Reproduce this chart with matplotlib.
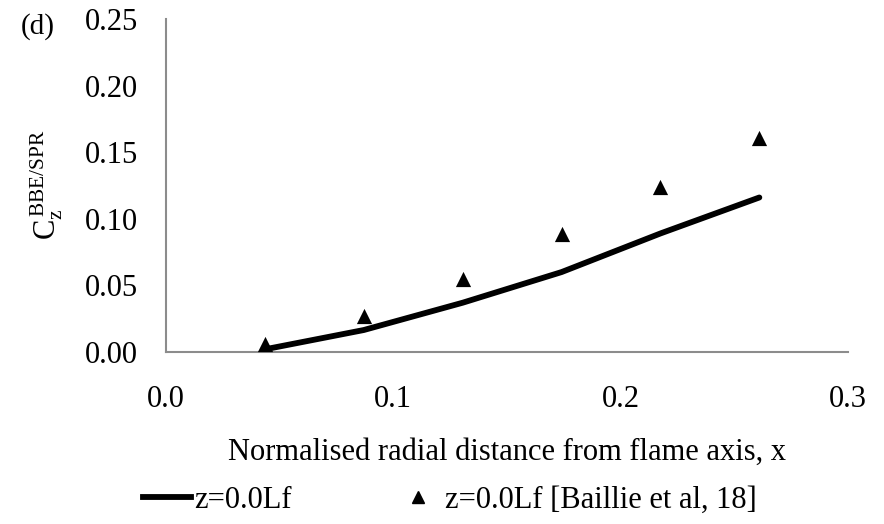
import matplotlib
matplotlib.use("Agg")
import matplotlib.pyplot as plt
from matplotlib.lines import Line2D

plt.rcParams['font.family'] = ['Liberation Serif', 'DejaVu Serif']
plt.rcParams['mathtext.fontset'] = 'custom'
plt.rcParams['mathtext.rm'] = 'Liberation Serif'
plt.rcParams['mathtext.it'] = 'Liberation Serif:italic'

# Data
x_model = [0.0435, 0.087, 0.1305, 0.174, 0.2175, 0.261]
c_model = [0.002, 0.0165, 0.037, 0.060, 0.089, 0.116]
x_exp = [0.0435, 0.087, 0.1305, 0.174, 0.2175, 0.261]
c_exp = [0.006, 0.027, 0.055, 0.0886, 0.124, 0.161]
x_ticks = [0.0, 0.1, 0.2, 0.3]
y_ticks = [0.00, 0.05, 0.10, 0.15, 0.20, 0.25]
label_model = "z=0.0Lf"
label_exp = "z=0.0Lf [Baillie et al, 18]"

fs = 22
fig = plt.figure(figsize=(8.84, 5.24), dpi=100)
ax = fig.add_axes([166/884, 1-352/524, 682/884, 333/524])

ax.plot(x_model, c_model, color='black', lw=4.2, solid_capstyle='round', zorder=3)
ax.scatter(x_exp, c_exp, marker='^', s=120, color='black', zorder=4, linewidths=0)

ax.set_xlim(0, 0.3)
ax.set_ylim(0, 0.25)
ax.set_xticks(x_ticks)
ax.set_xticklabels([f"{v:.1f}" for v in x_ticks])
ax.set_yticks(y_ticks)
ax.set_yticklabels([f"{v:.2f}" for v in y_ticks])
ax.tick_params(axis='both', length=0, labelsize=fs)
ax.tick_params(axis='y', pad=20)
ax.tick_params(axis='x', pad=24)
for s in ['top', 'right']:
    ax.spines[s].set_visible(False)
for s in ['left', 'bottom']:
    ax.spines[s].set_color('#8c8c8c')
    ax.spines[s].set_linewidth(1.5)

ax.set_xlabel("Normalised radial distance from flame axis, x", fontsize=fs, labelpad=17)
fig.text(47/884, 1-185/524, r'$\mathregular{C_z^{\,BBE/SPR}}$', rotation=90,
         ha='center', va='center', fontsize=fs)
fig.text(38/884, 1-27/524, "(d)", ha='center', va='center', fontsize=fs-1)

handles = [Line2D([], [], color='black', lw=4.2),
           Line2D([], [], color='black', marker='^', ls='none', markersize=9)]
fig.legend(handles, [label_model, label_exp], loc='center', ncol=2,
           bbox_to_anchor=(450/884, 1-500/524), frameon=False, fontsize=fs,
           handlelength=1.57, handletextpad=0.1, columnspacing=3.35)

fig.savefig("out.png", dpi=100)
